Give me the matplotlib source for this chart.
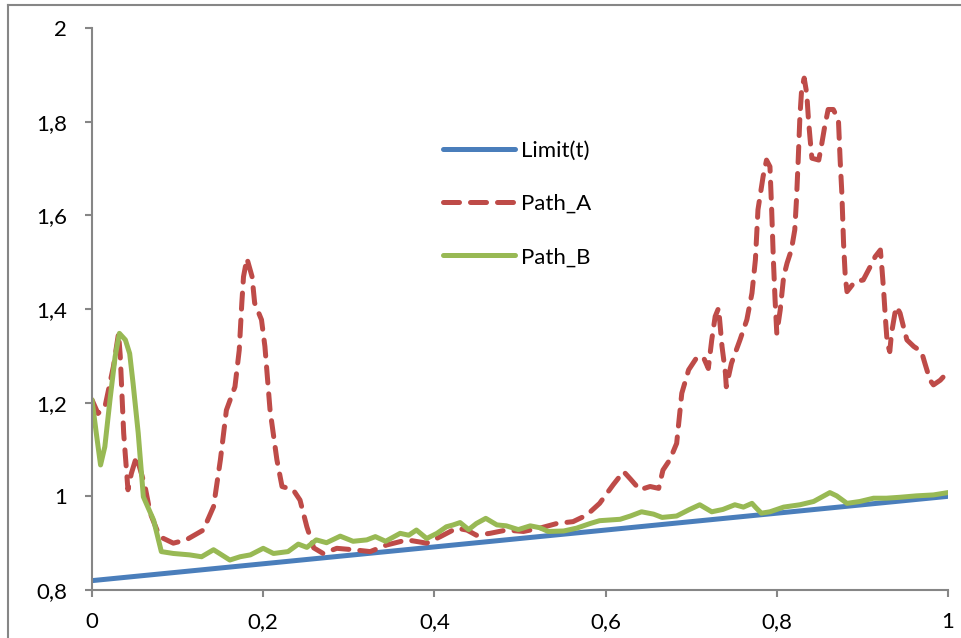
import matplotlib
matplotlib.use("Agg")
import matplotlib.pyplot as plt
from matplotlib.lines import Line2D
from matplotlib.ticker import FuncFormatter, MultipleLocator

# values
limit_x = [0.0, 1.0]
limit_y = [0.82, 1.0]

path_a_x = [0.0, 0.007, 0.015, 0.025, 0.031, 0.033, 0.037, 0.042, 0.046, 0.052,
            0.062, 0.068, 0.079, 0.095, 0.11, 0.13, 0.142, 0.150, 0.157, 0.167,
            0.172, 0.175, 0.177, 0.181, 0.187, 0.19, 0.198, 0.202, 0.208, 0.216,
            0.222, 0.235, 0.243, 0.251, 0.259, 0.27, 0.286, 0.305, 0.325, 0.344,
            0.368, 0.391, 0.407, 0.426, 0.438, 0.449, 0.465, 0.484, 0.504, 0.523,
            0.543, 0.562, 0.578, 0.593, 0.609, 0.621, 0.629, 0.64, 0.652, 0.662,
            0.667, 0.675, 0.683, 0.689, 0.697, 0.706, 0.714, 0.72, 0.724, 0.728,
            0.732, 0.736, 0.74, 0.741, 0.747, 0.757, 0.765, 0.771, 0.775, 0.778,
            0.784, 0.788, 0.792, 0.794, 0.796, 0.798, 0.80, 0.804, 0.808, 0.812,
            0.817, 0.821, 0.823, 0.825, 0.827, 0.829, 0.832, 0.835, 0.837, 0.839,
            0.841, 0.849, 0.852, 0.856, 0.86, 0.866, 0.872, 0.874, 0.876, 0.878,
            0.88, 0.882, 0.891, 0.901, 0.909, 0.915, 0.921, 0.923, 0.925, 0.927,
            0.929, 0.932, 0.934, 0.938, 0.94, 0.944, 0.948, 0.952, 0.96, 0.969,
            0.973, 0.979, 0.983, 0.991, 1.0]
path_a_y = [1.206, 1.177, 1.19, 1.277, 1.348, 1.30, 1.135, 1.014, 1.049, 1.085,
            1.021, 0.964, 0.914, 0.90, 0.907, 0.928, 0.978, 1.078, 1.184, 1.234,
            1.312, 1.412, 1.469, 1.508, 1.469, 1.413, 1.377, 1.32, 1.184, 1.078,
            1.021, 1.014, 0.992, 0.935, 0.89, 0.878, 0.889, 0.886, 0.882, 0.896,
            0.907, 0.90, 0.914, 0.932, 0.928, 0.917, 0.921, 0.928, 0.925, 0.932,
            0.942, 0.946, 0.96, 0.985, 1.025, 1.053, 1.037, 1.014, 1.021, 1.017,
            1.056, 1.078, 1.113, 1.22, 1.27, 1.295, 1.298, 1.273, 1.334, 1.384,
            1.402, 1.32, 1.263, 1.234, 1.284, 1.334, 1.377, 1.434, 1.505, 1.612,
            1.683, 1.718, 1.704, 1.612, 1.505, 1.419, 1.348, 1.398, 1.469, 1.498,
            1.526, 1.569, 1.634, 1.718, 1.811, 1.868, 1.893, 1.86, 1.804, 1.761,
            1.722, 1.718, 1.747, 1.79, 1.826, 1.826, 1.804, 1.718, 1.647, 1.54,
            1.469, 1.437, 1.458, 1.462, 1.49, 1.512, 1.526, 1.483, 1.434, 1.377,
            1.327, 1.309, 1.348, 1.391, 1.405, 1.391, 1.362, 1.334, 1.32, 1.309,
            1.284, 1.248, 1.238, 1.248, 1.266]

path_b_x = [0.0, 0.005, 0.01, 0.015, 0.021, 0.027, 0.032, 0.039, 0.044, 0.048,
            0.054, 0.06, 0.072, 0.081, 0.095, 0.114, 0.128, 0.142, 0.161, 0.173,
            0.185, 0.20, 0.212, 0.229, 0.241, 0.251, 0.262, 0.274, 0.29, 0.305,
            0.321, 0.331, 0.343, 0.36, 0.37, 0.379, 0.391, 0.403, 0.414, 0.422,
            0.43, 0.44, 0.449, 0.46, 0.473, 0.484, 0.498, 0.512, 0.523, 0.533,
            0.551, 0.566, 0.582, 0.593, 0.617, 0.629, 0.642, 0.656, 0.666, 0.683,
            0.697, 0.71, 0.724, 0.737, 0.751, 0.761, 0.771, 0.776, 0.782, 0.792,
            0.808, 0.827, 0.843, 0.852, 0.862, 0.87, 0.882, 0.897, 0.913, 0.928,
            0.944, 0.963, 0.983, 1.0]
path_b_y = [1.206, 1.135, 1.067, 1.106, 1.206, 1.298, 1.348, 1.334, 1.305, 1.241,
            1.135, 0.999, 0.949, 0.882, 0.878, 0.875, 0.871, 0.886, 0.864, 0.871,
            0.875, 0.889, 0.878, 0.882, 0.898, 0.891, 0.907, 0.901, 0.915, 0.904,
            0.907, 0.914, 0.904, 0.921, 0.917, 0.928, 0.91, 0.921, 0.935, 0.939,
            0.944, 0.929, 0.942, 0.953, 0.939, 0.937, 0.929, 0.937, 0.933, 0.925,
            0.926, 0.932, 0.942, 0.948, 0.951, 0.958, 0.967, 0.962, 0.955, 0.958,
            0.971, 0.982, 0.967, 0.972, 0.982, 0.977, 0.985, 0.975, 0.964, 0.967,
            0.977, 0.982, 0.989, 0.998, 1.008, 1.001, 0.985, 0.989, 0.996, 0.996,
            0.998, 1.001, 1.003, 1.008]

BLUE = "#4a7ebb"
RED = "#be4b48"
GREEN = "#98b954"
GREY = "#868686"

plt.rcParams["font.family"] = ["Lato", "DejaVu Sans"]

fig = plt.figure(figsize=(9.61, 6.38), dpi=100)
ax = fig.add_axes([92 / 961, 48 / 638, 856 / 961, 562 / 638])

ax.plot(limit_x, limit_y, color=BLUE, lw=3.6, solid_capstyle="round",
        label="Limit(t)")
ax.plot(path_a_x, path_a_y, color=RED, lw=3.6, dashes=(3.2, 2.2),
        dash_capstyle="round", solid_joinstyle="round", label="Path_A")
ax.plot(path_b_x, path_b_y, color=GREEN, lw=3.6, solid_capstyle="round",
        solid_joinstyle="round", label="Path_B")

ax.set_xlim(0, 1)
ax.set_ylim(0.8, 2)
ax.xaxis.set_major_locator(MultipleLocator(0.2))
ax.yaxis.set_major_locator(MultipleLocator(0.2))
comma = FuncFormatter(lambda v, pos: ("%g" % round(v, 2)).replace(".", ","))
ax.xaxis.set_major_formatter(comma)
ax.yaxis.set_major_formatter(comma)

for side in ("top", "right"):
    ax.spines[side].set_visible(False)
for side in ("left", "bottom"):
    ax.spines[side].set_color(GREY)
    ax.spines[side].set_linewidth(1.5)
ax.tick_params(direction="out", length=5, width=1.5, color=GREY,
               labelsize=16, labelcolor="black")
ax.tick_params(axis="x", pad=11)
ax.tick_params(axis="y", pad=13)

leg = ax.legend(loc="upper left", bbox_to_anchor=(443 / 961, 1 - 141 / 638),
                bbox_transform=fig.transFigure, frameon=False, fontsize=16,
                handlelength=3.25, handletextpad=0.25, labelspacing=1.49,
                borderpad=0, borderaxespad=0)

# outer chart-area border (cropped on the right and bottom)
fig.add_artist(Line2D([8 / 961, 8 / 961], [0, 1 - 5 / 638], color=GREY, lw=1.5,
                      transform=fig.transFigure))
fig.add_artist(Line2D([8 / 961, 1], [1 - 5 / 638, 1 - 5 / 638], color=GREY,
                      lw=1.5, transform=fig.transFigure))

fig.savefig("out.png", dpi=100)
